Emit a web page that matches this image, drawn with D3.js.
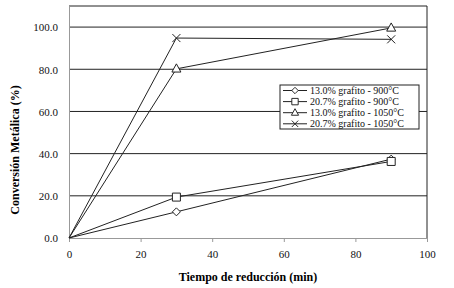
<!DOCTYPE html>
<html>
<head>
<meta charset="utf-8">
<script src="https://cdn.jsdelivr.net/npm/d3@7"></script>
<style>
body { margin: 0; background: #fff; }
text { font-family: "Liberation Serif", "Times New Roman", serif; }
</style>
</head>
<body>
<div id="chart"></div>
<script>
var times = [0, 30, 90];
var seriesNames = ["13.0% grafito - 900°C", "20.7% grafito - 900°C", "13.0% grafito - 1050°C", "20.7% grafito - 1050°C"];
var s13_900 = [0, 12.4, 37.4];
var s207_900 = [0, 19.4, 36.3];
var s13_1050 = [0, 80.2, 99.6];
var s207_1050 = [0, 94.8, 94.2];
var xTicks = [0, 20, 40, 60, 80, 100];
var yTicks = [0, 20, 40, 60, 80, 100];
var markers = ["diamond", "square", "triangle", "cross"];

var allSeries = [s13_900, s207_900, s13_1050, s207_1050];

var width = 454, height = 288;
var margin = {top: 6, right: 27, bottom: 50, left: 69};

var svg = d3.select("#chart").append("svg")
    .attr("width", width)
    .attr("height", height);

var x = d3.scaleLinear().domain([0, 100]).range([margin.left, width - margin.right]);
var y = d3.scaleLinear().domain([0, 110]).range([height - margin.bottom, margin.top]);

// gridlines
svg.selectAll("line.grid")
    .data(yTicks.filter(function(d){ return d > 0; }))
    .enter().append("line")
    .attr("x1", x(0)).attr("x2", x(100))
    .attr("y1", function(d){ return y(d); })
    .attr("y2", function(d){ return y(d); })
    .attr("stroke", "#222").attr("stroke-width", 1);

// frame top/right
svg.append("path")
    .attr("d", "M" + x(0) + "," + y(110) + "H" + x(100) + "V" + y(0))
    .attr("fill", "none").attr("stroke", "#222");

// axes
var xAxis = svg.append("g")
    .attr("transform", "translate(0," + y(0) + ")")
    .call(d3.axisBottom(x).tickValues(xTicks).tickSize(4).tickSizeOuter(0).tickFormat(d3.format("d")));
var yAxis = svg.append("g")
    .attr("transform", "translate(" + x(0) + ",0)")
    .call(d3.axisLeft(y).tickValues(yTicks).tickSize(0).tickSizeOuter(0).tickPadding(11).tickFormat(d3.format(".1f")));
[xAxis, yAxis].forEach(function(a){
    a.select(".domain").attr("stroke", "#999");
    a.selectAll(".tick line").attr("stroke", "#999");
    a.selectAll("text").attr("font-family", "Liberation Serif").attr("font-size", 11).attr("fill", "#111");
});
xAxis.selectAll("text").attr("dy", "1.2em");
yAxis.selectAll("text").attr("dy", "0.35em");

function markerPath(type) {
    if (type == "diamond") return "M0,-4L4,0L0,4L-4,0Z";
    if (type == "square") return "M-4,-4H4V4H-4Z";
    if (type == "triangle") return "M0,-5L4.5,3.2H-4.5Z";
    return "M-4,-4L4,4M4,-4L-4,4";
}

var line = d3.line()
    .x(function(d, i){ return x(times[i]); })
    .y(function(d){ return y(d); });

allSeries.forEach(function(vals, k) {
    svg.append("path")
        .attr("d", line(vals))
        .attr("fill", "none").attr("stroke", "#222").attr("stroke-width", 1);
    svg.selectAll("path.m" + k)
        .data(vals.slice(1))
        .enter().append("path")
        .attr("class", "m" + k)
        .attr("transform", function(d, i){ return "translate(" + x(times[i + 1]) + "," + y(d) + ")"; })
        .attr("d", markerPath(markers[k]))
        .attr("fill", markers[k] == "cross" ? "none" : "#fff")
        .attr("stroke", "#222").attr("stroke-width", 1);
});

// legend
var lg = svg.append("g").attr("transform", "translate(280,85)");
lg.append("rect").attr("width", 139).attr("height", 44)
    .attr("fill", "#fff").attr("stroke", "#222");
seriesNames.forEach(function(name, k) {
    var ly = 5.5 + k * 11.1;
    lg.append("line").attr("x1", 3).attr("x2", 27).attr("y1", ly).attr("y2", ly).attr("stroke", "#222");
    lg.append("path").attr("transform", "translate(15," + ly + ") scale(0.8)")
        .attr("d", markerPath(markers[k]))
        .attr("fill", markers[k] == "cross" ? "none" : "#fff")
        .attr("stroke", "#222").attr("stroke-width", 1.2);
    lg.append("text").attr("x", 30).attr("y", ly).attr("dy", "0.33em")
        .attr("font-size", 10).attr("fill", "#111").text(name);
});

// axis titles
svg.append("text")
    .attr("x", 248).attr("y", 281)
    .attr("text-anchor", "middle")
    .attr("font-weight", "bold").attr("font-size", 12)
    .text("Tiempo de reducción (min)");
svg.append("text")
    .attr("transform", "translate(19,150) rotate(-90)")
    .attr("text-anchor", "middle")
    .attr("font-weight", "bold").attr("font-size", 12)
    .text("Conversión Metálica (%)");
</script>
</body>
</html>
